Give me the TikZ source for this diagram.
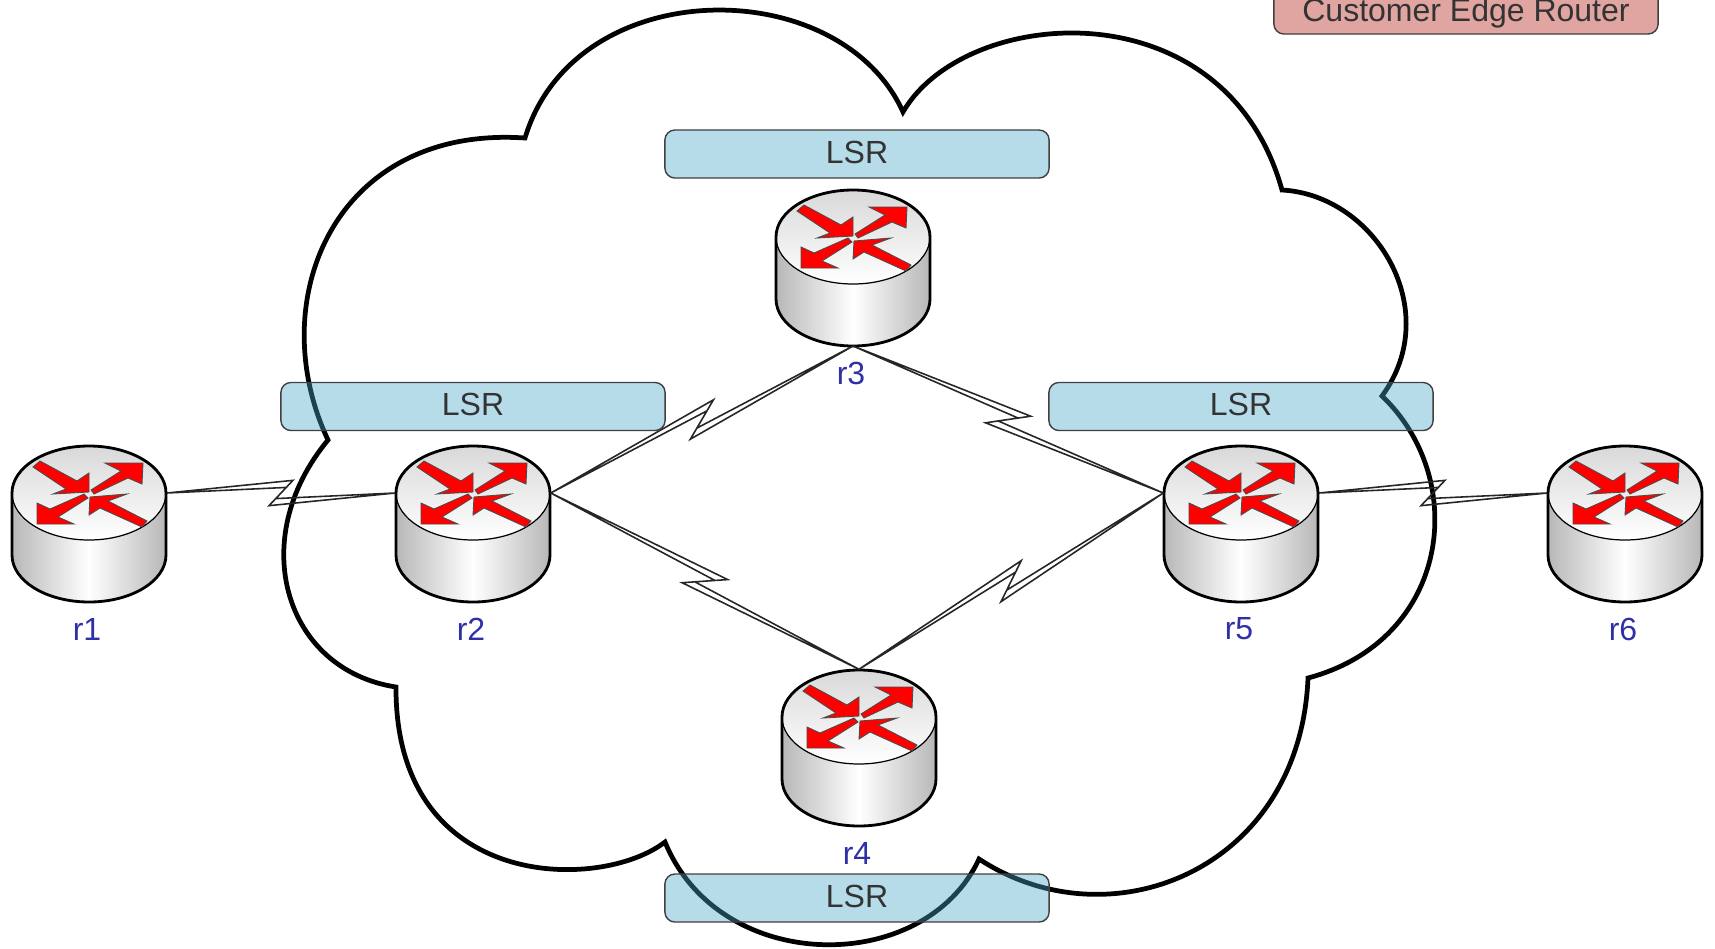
\documentclass[tikz,border=0pt]{standalone}
\usepackage{fontspec}
\setmainfont{Liberation Sans}
\usetikzlibrary{calc}

\definecolor{lsrfill}{HTML}{46A7C5}
\definecolor{cefill}{HTML}{E0A5A0}
\definecolor{labelblue}{HTML}{2F2FA8}
\tikzset{
  lsrbox/.style={draw=black!75, line width=0.4pt, fill=lsrfill, fill opacity=0.4, text opacity=1,
    rounded corners=1mm, minimum width=3.84cm, minimum height=0.48cm, inner sep=0pt, text depth=1.1pt,
    text=black!80, font=\fontsize{9.1}{11}\selectfont},
  cebox/.style={lsrbox, fill=cefill, fill opacity=1, text depth=0pt},
  routerlabel/.style={text=labelblue, inner sep=0pt, font=\fontsize{9.1}{11}\selectfont},
  routerport/.style={minimum width=1.54cm, minimum height=0.94cm, inner sep=0pt},
  routerarrow/.style={draw=black!70, line width=0.25pt, fill=red},
  wanline/.style={draw=black!85, line width=0.45pt, line join=miter},
}

\begin{document}
\begin{tikzpicture}[x=0.01cm, y=-0.01cm]
  \newcommand{\router}[2]
  {%
    \begin{scope}[shift={#2}]
      \shade[left color=black!28, right color=black!28, middle color=white]
        (-77, 0) -- (-77, 62) arc[start angle=180, end angle=0, x radius=77, y radius=47] -- (77, 0) -- cycle;
      \shadedraw[line width=0.35pt, top color=black!15, bottom color=white]
        (0, 0) ellipse [x radius=77, y radius=47];
      \draw[line width=0.8pt] (-77, 0) arc[start angle=180, end angle=360, x radius=77, y radius=47]
        -- (77, 62) arc[start angle=0, end angle=180, x radius=77, y radius=47] -- cycle;
      \draw[routerarrow] (-49, -32) -- (-56, -26) -- (-23, -4) -- (-36, 1) -- (0, -1) -- (0, -20) -- (-12, -12) -- cycle;
      \draw[routerarrow] (2, -3) -- (32, -22) -- (16, -30) -- (54, -30) -- (53, -9) -- (39, -15) -- (5, 1) -- cycle;
      \draw[routerarrow] (-5, 1) -- (-39, 16) -- (-52, 10) -- (-52, 31) -- (-15, 31) -- (-31, 24) -- (-1, 5) -- cycle;
      \draw[routerarrow] (1, 4) -- (38, 1) -- (19, 8) -- (58, 28) -- (53, 34) -- (11, 15) -- (0, 22) -- cycle;
      \node[routerport] (#1) at (0, 0) {};
      \coordinate (#1base) at (0, 109);
      \node[routerlabel] (#1label) at (-2, 136) {#1};
    \end{scope}%
  }%
  \newcommand{\wanlink}[3]
  {%
    \coordinate (mid) at ($(#1)!.5!(#2)$);
    \coordinate (ahead) at ($(mid)!#3!(#2)$);
    \coordinate (back) at ($(mid)!#3!(#1)$);
    \coordinate (tipa) at ($(ahead)!3.6pt!90:(#2)$);
    \coordinate (tipb) at ($(back)!3.6pt!90:(#1)$);
    \coordinate (inna) at ($(tipa)!.72!(tipb)$);
    \coordinate (innb) at ($(tipb)!.72!(tipa)$);
    \draw[wanline] (#1) -- (tipa) -- (inna) -- (#2) -- (tipb) -- (innb) -- cycle;
  }%
  \useasboundingbox (0, 0) rectangle (1715, 948);
  % cloud
  \draw[line width=1.35pt, line join=miter]
    (525, 138) .. controls (575, -28) and (840, -28) .. (903, 112)
    .. controls (965, 5) and (1225, -15) .. (1282, 190)
    .. controls (1375, 195) and (1445, 310) .. (1382, 396)
    .. controls (1470, 480) and (1450, 640) .. (1308, 678)
    .. controls (1300, 870) and (1110, 945) .. (979, 859)
    .. controls (925, 976) and (720, 976) .. (665, 842)
    .. controls (600, 892) and (395, 892) .. (396, 687)
    .. controls (285, 670) and (245, 540) .. (328, 440)
    .. controls (262, 300) and (335, 125) .. (525, 138) -- cycle;
  % routers
  \router{r1}{(89, 493)}
  \router{r2}{(473, 493)}
  \router{r3}{(853, 237)}
  \router{r4}{(859, 717)}
  \router{r5}{(1241, 493)}
  \router{r6}{(1625, 493)}
  % links
  \wanlink{r1.east}{r2.west}{3.4pt}
  \wanlink{r2.east}{r3base}{5.4pt}
  \wanlink{r2.east}{r4.north}{5.4pt}
  \wanlink{r3base}{r5.west}{5.4pt}
  \wanlink{r4.north}{r5.west}{5.4pt}
  \wanlink{r5.east}{r6.west}{3.4pt}
  % labels
  \node[lsrbox] (lsrtop) at (857, 154) {LSR};
  \node[lsrbox] (lsrleft) at (473, 406.5) {LSR};
  \node[lsrbox] (lsrright) at (1241, 406.5) {LSR};
  \node[lsrbox] (lsrbottom) at (857, 898) {LSR};
  \node[cebox] (ce) at (1466, 10) {Customer Edge Router};
\end{tikzpicture}
\end{document}
